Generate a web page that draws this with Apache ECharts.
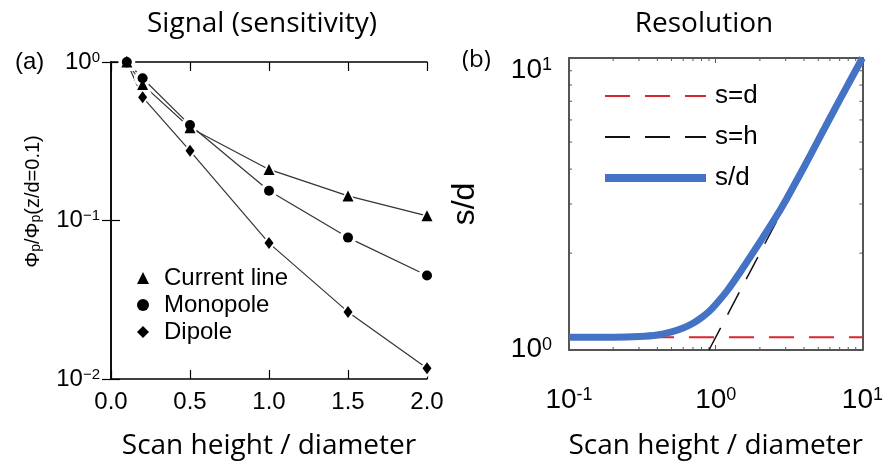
<!DOCTYPE html>
<html>
<head>
<meta charset="utf-8">
<script src="https://cdn.jsdelivr.net/npm/echarts@6/dist/echarts.min.js"></script>
<style>
html, body { margin: 0; padding: 0; background: #fff; }
#main { width: 886px; height: 466px; }
</style>
</head>
<body>
<div id="main"></div>
<script>
// (a) signal vs scan height, normalised to z/d = 0.1
var heights = [0.1, 0.2, 0.5, 1.0, 1.5, 2.0];
var currentLine = [1.0, 0.72, 0.385, 0.21, 0.143, 0.107];
var monopole = [1.0, 0.79, 0.40, 0.154, 0.078, 0.045];
var dipole = [1.0, 0.60, 0.275, 0.072, 0.0265, 0.0117];

// (b) resolution, s/d vs h/d
var resH = [0.1, 0.2, 0.3, 0.4, 0.5, 0.6, 0.7, 0.8, 0.9, 1.0, 1.2, 1.5, 2.0, 2.5, 3.0, 4.0, 5.0, 7.0, 10];
var resS = [1.0, 1.0, 1.005, 1.018, 1.045, 1.079, 1.122, 1.175, 1.236, 1.31, 1.47, 1.74, 2.19, 2.63, 3.09, 4.07, 5.08, 7.08, 10];
var sdH = [0.1, 10];
var sdS = [1, 1];
var shH = [0.9, 10];
var shS = [0.9, 10];

// log minor tick positions for panel (b)
var minorX = [0.2, 0.3, 0.4, 0.5, 0.6, 0.7, 0.8, 0.9, 2, 3, 4, 5, 6, 7, 8, 9];
var minorY = [2, 3, 4, 5, 6, 7, 8, 9];

var sans = 'Liberation Sans';
var calib = 'Open Sans';

function zip(xs, ys) {
  return xs.map(function (x, i) { return [x, ys[i]]; });
}

// 10^n labels for log axes, only on whole decades
function powLabel(minus) {
  return function (v) {
    var l = Math.log10(v);
    var e = Math.round(l);
    if (Math.abs(l - e) > 1e-6) return '';
    return '{b|10}{s|' + (e < 0 ? minus + (-e) : e) + '}';
  };
}

var myChart = echarts.init(document.getElementById('main'));

var leftTick = { inside: true, length: 9, lineStyle: { color: '#000', width: 1.2 } };
var leftLine = { lineStyle: { color: '#000', width: 1.5 } };
var rightTick = { inside: true, length: 5, lineStyle: { color: '#555', width: 1 } };
var rightLine = { lineStyle: { color: '#555', width: 2 } };

var nameStyle = { fontFamily: calib, fontSize: 28, lineHeight: 28, color: '#000' };

// line with white halo symbols, so the line stops short of each marker
function haloLine(ys, symbol, size) {
  return {
    type: 'line',
    xAxisIndex: 0,
    yAxisIndex: 0,
    data: zip(heights, ys),
    symbol: symbol,
    symbolSize: size,
    clip: false,
    z: 2,
    lineStyle: { color: '#333', width: 1.2 },
    itemStyle: { color: '#fff' }
  };
}

// black markers drawn on top of all lines
function markers(name, ys, symbol, size) {
  return {
    name: name,
    type: 'scatter',
    xAxisIndex: 0,
    yAxisIndex: 0,
    data: zip(heights, ys),
    symbol: symbol,
    symbolSize: size,
    clip: false,
    z: 3,
    itemStyle: { color: '#000', opacity: 1 }
  };
}

// short minor ticks on both sides of the (b) box
function minorTicks(dim) {
  return function (params, api) {
    var cs = params.coordSys;
    var p = api.coord(dim === 'x' ? [api.value(0), 1] : [1, api.value(1)]);
    var st = { stroke: '#555', lineWidth: 1 };
    var a, b;
    if (dim === 'x') {
      a = { x1: p[0], y1: cs.y + cs.height, x2: p[0], y2: cs.y + cs.height - 3 };
      b = { x1: p[0], y1: cs.y, x2: p[0], y2: cs.y + 3 };
    } else {
      a = { x1: cs.x, y1: p[1], x2: cs.x + 3, y2: p[1] };
      b = { x1: cs.x + cs.width, y1: p[1], x2: cs.x + cs.width - 3, y2: p[1] };
    }
    return {
      type: 'group',
      children: [
        { type: 'line', shape: a, style: st },
        { type: 'line', shape: b, style: st }
      ]
    };
  };
}

var option = {
  animation: false,
  title: [
    { text: 'Signal (sensitivity)', left: 262, top: 10, padding: 0, textAlign: 'center',
      textStyle: { fontFamily: calib, fontSize: 28, lineHeight: 28, fontWeight: 'normal', color: '#000' } },
    { text: 'Resolution', left: 704, top: 10, padding: 0, textAlign: 'center',
      textStyle: { fontFamily: calib, fontSize: 28, lineHeight: 28, fontWeight: 'normal', color: '#000' } },
    { text: '(a)', left: 15, top: 50, padding: 0,
      textStyle: { fontFamily: sans, fontSize: 24, lineHeight: 24, fontWeight: 'normal', color: '#000' } },
    { text: '(b)', left: 462, top: 48, padding: 0,
      textStyle: { fontFamily: calib, fontSize: 24, lineHeight: 24, fontWeight: 'normal', color: '#000' } }
  ],
  legend: [
    {
      data: [
        { name: 'Current line', icon: 'triangle' },
        { name: 'Monopole', icon: 'circle' },
        { name: 'Dipole', icon: 'diamond' }
      ],
      orient: 'vertical',
      left: 132,
      top: 261,
      itemWidth: 12,
      itemHeight: 12,
      itemGap: 3,
      selectedMode: false,
      itemStyle: { color: '#000', borderWidth: 0 },
      textStyle: { fontFamily: sans, fontSize: 24, lineHeight: 24, color: '#000', padding: [0, 0, 0, 10] }
    },
    {
      data: [
        { name: 's=d', lineStyle: { width: 2 } },
        { name: 's=h', lineStyle: { width: 2 } },
        { name: 's/d', lineStyle: { width: 8 } }
      ],
      orient: 'vertical',
      left: 596,
      top: 78,
      itemWidth: 101,
      itemHeight: 14,
      itemGap: 15,
      selectedMode: false,
      itemStyle: { opacity: 0 },
      textStyle: { fontFamily: sans, fontSize: 26, lineHeight: 26, color: '#000', padding: [0, 0, 0, 4] }
    }
  ],
  grid: [
    { left: 111, right: 459, top: 62, bottom: 87 },
    { left: 569, right: 23, top: 58, bottom: 116 }
  ],
  xAxis: [
    {
      type: 'value', gridIndex: 0, position: 'bottom',
      min: 0, max: 2, interval: 0.5,
      axisLine: leftLine, axisTick: leftTick, splitLine: { show: false },
      axisLabel: {
        margin: 11, fontFamily: sans, fontSize: 24, lineHeight: 24, color: '#000',
        formatter: function (v) { return v.toFixed(1); }
      },
      name: 'Scan height / diameter', nameLocation: 'middle', nameGap: 53,
      nameTextStyle: nameStyle
    },
    {
      type: 'value', gridIndex: 0, position: 'top',
      min: 0, max: 2, interval: 0.5,
      axisLine: leftLine, axisTick: leftTick, axisLabel: { show: false }, splitLine: { show: false }
    },
    {
      type: 'log', logBase: 10, gridIndex: 1, position: 'bottom',
      min: 0.1, max: 10,
      axisLine: rightLine, axisTick: rightTick, splitLine: { show: false },
      axisLabel: {
        margin: 36, color: '#000',
        formatter: powLabel('-'),
        rich: {
          b: { fontFamily: sans, fontSize: 28, lineHeight: 28, padding: [7, 0, 0, 0], verticalAlign: 'bottom' },
          s: { fontFamily: sans, fontSize: 18, lineHeight: 18, verticalAlign: 'top' }
        }
      },
      name: 'Scan height / diameter', nameLocation: 'middle', nameGap: 82,
      nameTextStyle: nameStyle
    },
    {
      type: 'log', logBase: 10, gridIndex: 1, position: 'top',
      min: 0.1, max: 10,
      axisLine: rightLine, axisTick: rightTick,
      axisLabel: { show: false }, splitLine: { show: false }
    }
  ],
  yAxis: [
    {
      type: 'log', logBase: 10, gridIndex: 0, position: 'left',
      min: 0.01, max: 1,
      axisLine: leftLine, axisTick: leftTick, splitLine: { show: false },
      axisLabel: {
        margin: 11, color: '#000',
        formatter: powLabel('\u2212'),
        rich: {
          b: { fontFamily: sans, fontSize: 24, lineHeight: 24, padding: [2, 0, 0, 0], verticalAlign: 'bottom' },
          s: { fontFamily: sans, fontSize: 15, lineHeight: 15, verticalAlign: 'top' }
        }
      },
      name: '{m|\u03a6}{s|p}{m|/\u03a6}{s|p}{m|(z/d=0.1)}',
      nameLocation: 'middle', nameRotate: 90, nameGap: 68,
      nameTextStyle: {
        padding: [0, 0, 0, 38],
        rich: {
          m: { fontFamily: sans, fontSize: 20, lineHeight: 20, verticalAlign: 'top', color: '#000' },
          s: { fontFamily: sans, fontSize: 14, lineHeight: 14, padding: [8, 0, 0, 0], verticalAlign: 'bottom', color: '#000' }
        }
      }
    },
    {
      type: 'log', logBase: 10, gridIndex: 0, position: 'right',
      min: 0.01, max: 1,
      axisLine: leftLine, axisTick: leftTick, axisLabel: { show: false }, splitLine: { show: false }
    },
    {
      type: 'log', logBase: 10, gridIndex: 1, position: 'left',
      min: 0.9, max: 10,
      axisLine: rightLine, axisTick: rightTick, splitLine: { show: false },
      axisLabel: {
        margin: 17, color: '#000', padding: [25, 0, 0, 0],
        formatter: powLabel('-'),
        rich: {
          b: { fontFamily: sans, fontSize: 28, lineHeight: 28, padding: [5, 0, 0, 0], verticalAlign: 'bottom' },
          s: { fontFamily: sans, fontSize: 18, lineHeight: 18, verticalAlign: 'top' }
        }
      },
      name: 's/d', nameLocation: 'middle', nameRotate: 90, nameGap: 88,
      nameTextStyle: { fontFamily: sans, fontSize: 32, lineHeight: 32, color: '#000' }
    },
    {
      type: 'log', logBase: 10, gridIndex: 1, position: 'right',
      min: 0.9, max: 10,
      axisLine: rightLine, axisTick: rightTick,
      axisLabel: { show: false }, splitLine: { show: false }
    }
  ],
  series: [
    haloLine(currentLine, 'triangle', 18),
    haloLine(monopole, 'circle', 17),
    haloLine(dipole, 'diamond', [14, 18]),
    markers('Current line', currentLine, 'triangle', 11),
    markers('Monopole', monopole, 'circle', 10),
    markers('Dipole', dipole, 'diamond', [9, 12]),
    {
      name: 's=d', type: 'line', xAxisIndex: 2, yAxisIndex: 2,
      data: zip(sdH, sdS), symbol: 'none',
      itemStyle: { color: '#d9262c' },
      lineStyle: { color: '#d9262c', width: 2, type: [25, 15] }
    },
    {
      name: 's=h', type: 'line', xAxisIndex: 2, yAxisIndex: 2,
      data: zip(shH, shS), symbol: 'none',
      itemStyle: { color: '#111' },
      lineStyle: { color: '#111', width: 1.5, type: [25, 15] }
    },
    {
      name: 's/d', type: 'line', xAxisIndex: 2, yAxisIndex: 2,
      data: zip(resH, resS), symbol: 'none', smooth: 0.3,
      itemStyle: { color: '#4472c4' },
      lineStyle: { color: '#4472c4', width: 7 }
    },
    {
      type: 'custom', xAxisIndex: 2, yAxisIndex: 2, silent: true,
      data: minorX.map(function (v) { return [v, 1]; }),
      renderItem: minorTicks('x')
    },
    {
      type: 'custom', xAxisIndex: 2, yAxisIndex: 2, silent: true,
      data: minorY.map(function (v) { return [1, v]; }),
      renderItem: minorTicks('y')
    }
  ]
};

myChart.setOption(option);
</script>
</body>
</html>
